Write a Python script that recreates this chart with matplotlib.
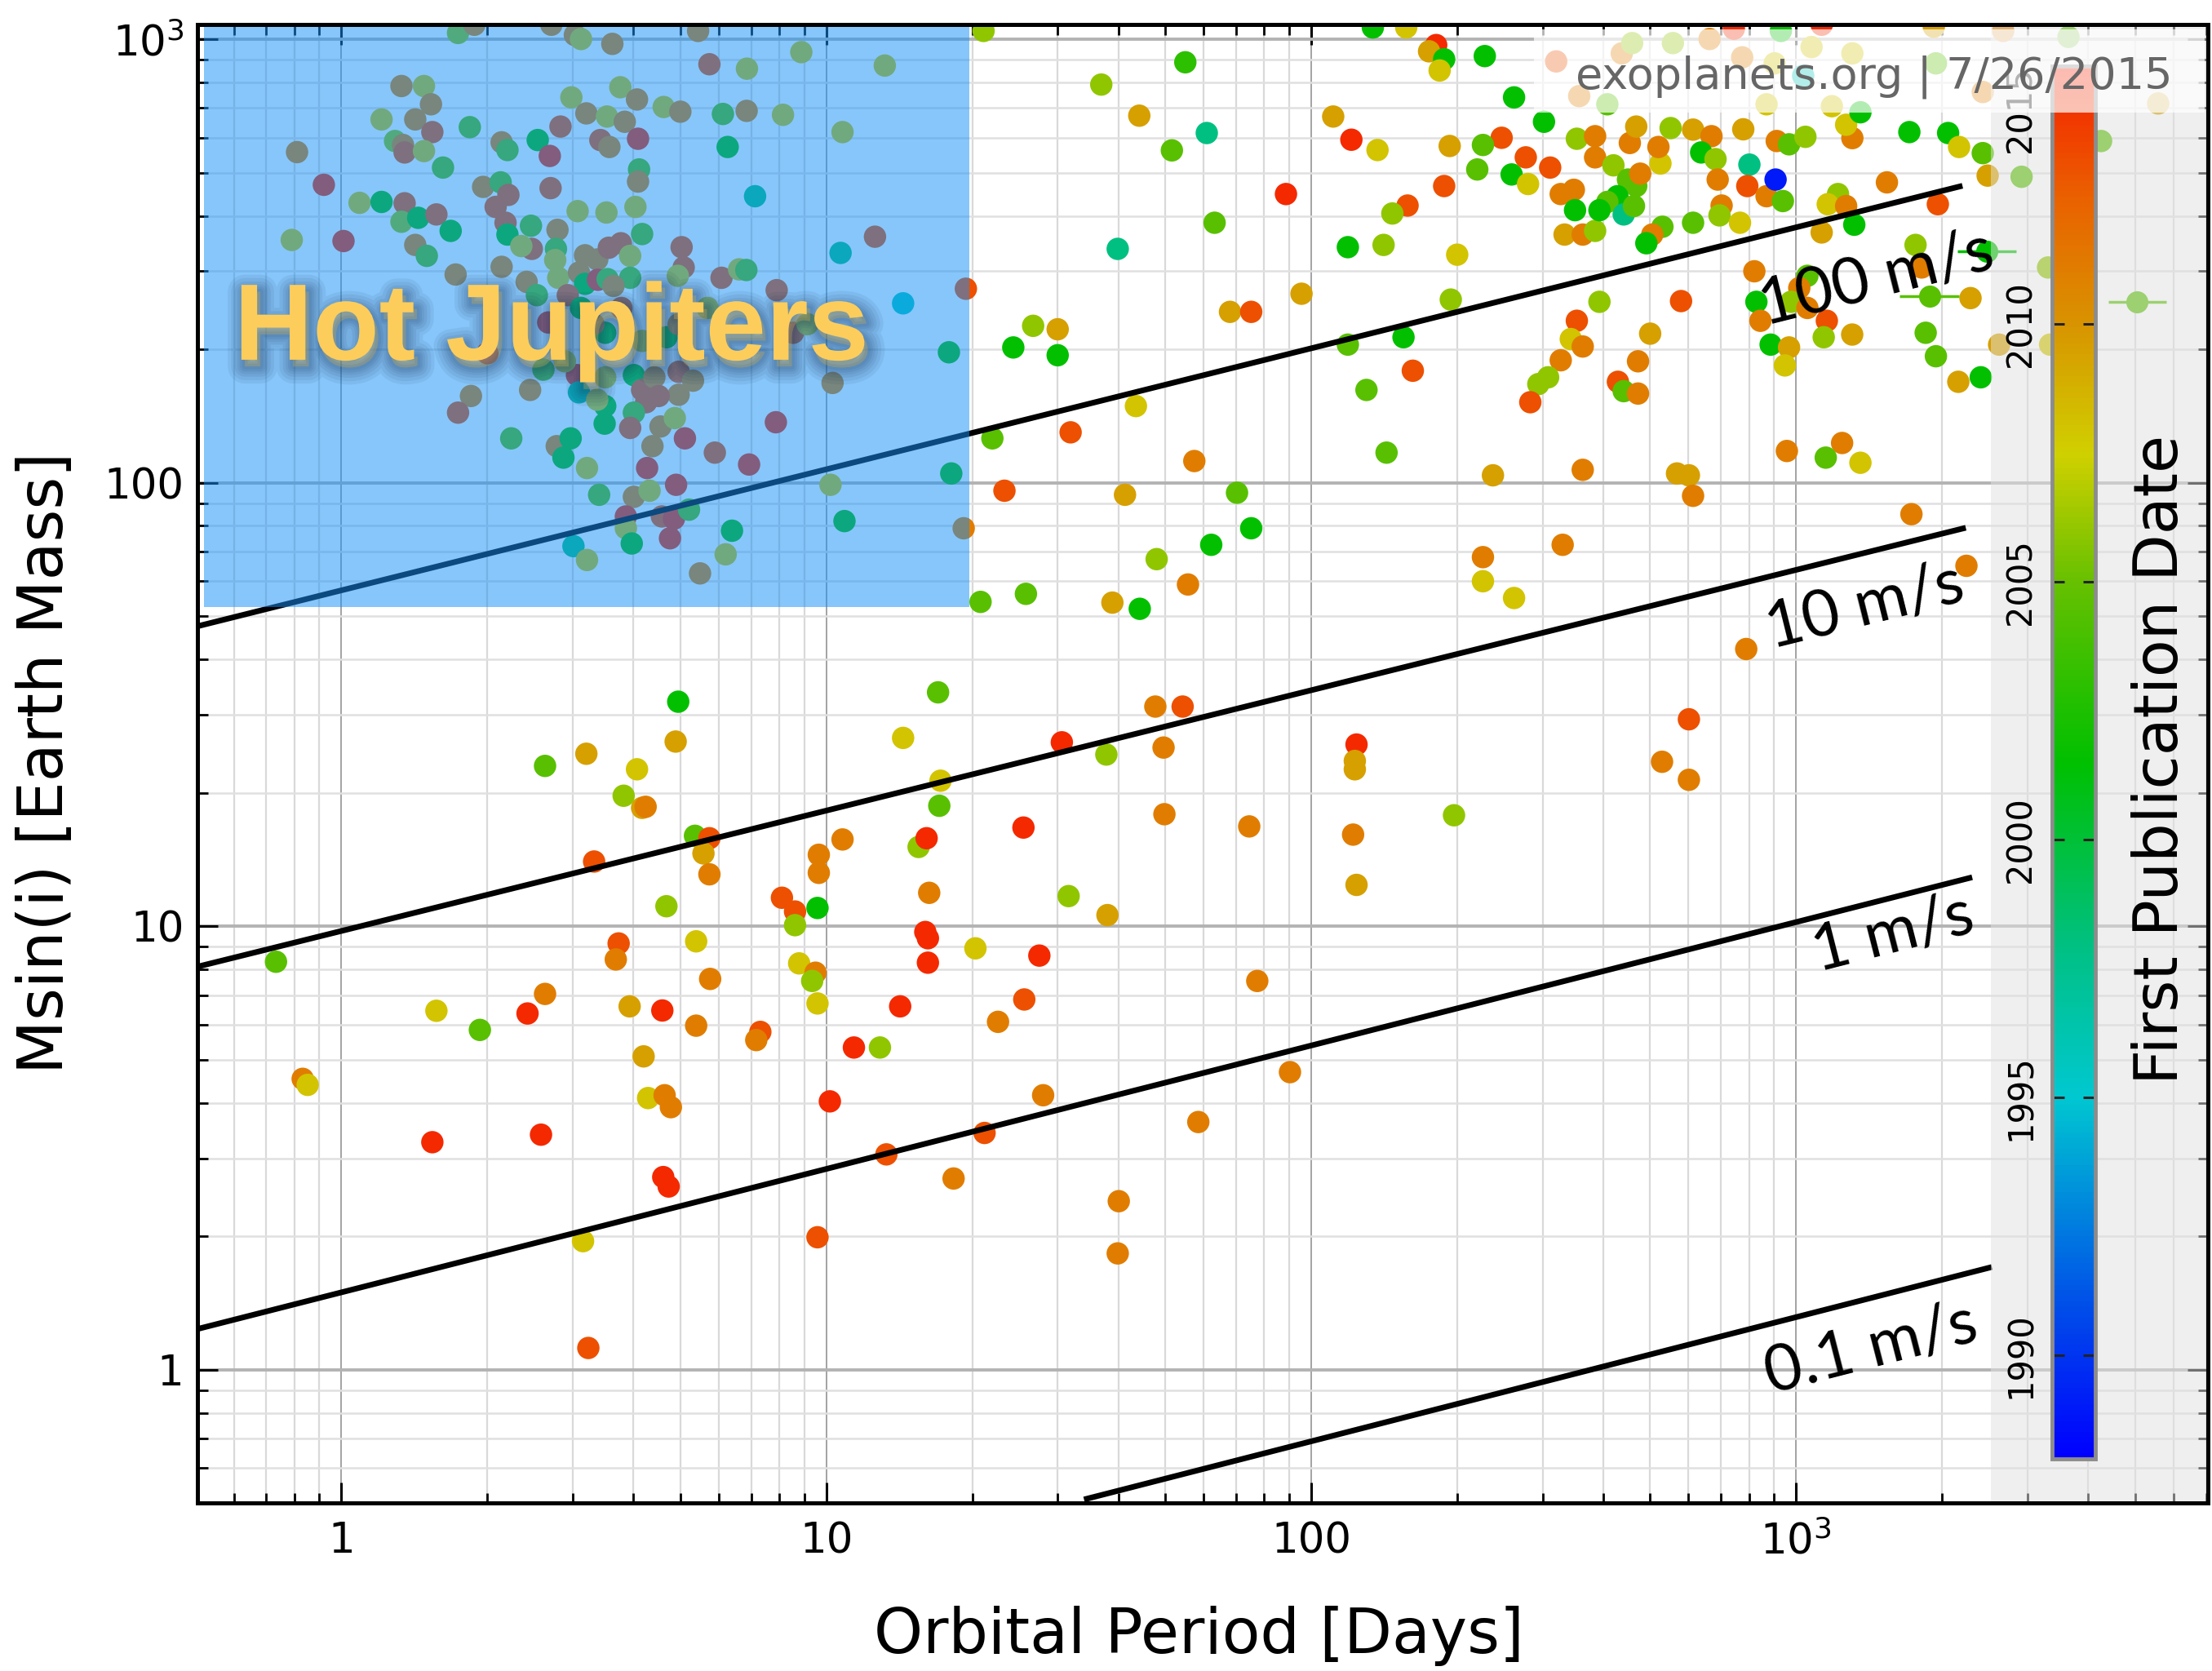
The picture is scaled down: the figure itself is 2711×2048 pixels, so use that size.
import matplotlib
matplotlib.use("Agg")
import matplotlib.pyplot as plt
import numpy as np
from matplotlib import patheffects
from matplotlib.cm import ScalarMappable
from matplotlib.colors import LinearSegmentedColormap, Normalize
from matplotlib.patches import Rectangle
from matplotlib.ticker import FixedLocator, FixedFormatter, LogLocator, NullFormatter

plt.rcParams['font.family'] = ['DejaVu Sans']
plt.rcParams['mathtext.fontset'] = 'dejavusans'

# short period giants (hot Jupiter corner)
hj_period = [
    1.74, 1.88, 2.71, 3.03, 3.12, 3.62, 5.44, 5.74, 6.86, 8.88,
    1.33, 1.48, 1.53, 1.21, 1.42, 1.54, 1.84, 2.98, 3.20, 3.53,
    3.76, 4.07, 3.84, 4.62, 5.00, 6.12, 6.85, 8.14, 2.83, 0.81,
    1.29, 1.34, 1.35, 1.48, 2.14, 2.20, 2.54, 2.69, 3.42, 3.57,
    4.09, 6.26, 1.62, 4.11, 4.09, 0.92, 1.09, 1.21, 1.35, 1.96,
    2.13, 2.21, 2.08, 2.70, 7.13, 3.07, 3.52, 4.04, 1.33, 1.44,
    1.57, 1.68, 2.18, 2.46, 2.79, 2.20, 4.17, 0.79, 1.01, 1.42,
    1.50, 1.72, 2.14, 2.47, 2.35, 2.77, 2.76, 3.18, 3.37, 3.56,
    3.77, 3.94, 5.03, 5.08, 4.94, 6.08, 6.61, 6.84, 7.90, 2.41,
    2.53, 2.80, 3.09, 3.18, 2.93, 3.38, 3.54, 3.94, 3.64, 2.67,
    2.00, 3.50, 4.68, 8.54, 9.14, 5.69, 4.96, 3.12, 3.78, 3.31,
    4.17, 2.61, 2.45, 1.85, 1.74, 3.06, 2.89, 3.09, 3.50, 4.01,
    4.17, 4.42, 4.96, 5.31, 4.96, 4.25, 4.51, 3.50, 3.49, 3.37,
    4.01, 4.55, 4.87, 3.94, 7.87, 2.24, 2.78, 2.97, 2.87, 3.21,
    4.38, 5.11, 4.27, 5.89, 6.93, 3.40, 4.01, 4.32, 4.90, 3.86,
    4.58, 4.85, 5.21, 3.86, 3.97, 4.76, 6.39, 3.01, 3.21, 6.20,
    5.49, 10.2, 10.3, 13.2, 10.8, 12.6, 10.7, 14.4, 19.4, 17.9,
    18.1, 10.9, 19.2,
]
hj_mass = [
    1034, 1079, 1079, 1023, 1002, 977, 1045, 879, 859, 936,
    785, 785, 714, 660, 660, 618, 634, 740, 681, 670,
    780, 732, 652, 704, 687, 679, 690, 676, 636, 557,
    590, 578, 556, 560, 586, 563, 593, 546, 593, 572,
    597, 572, 514, 509, 478, 470, 428, 430, 427, 465,
    476, 446, 419, 462, 443, 410, 407, 419, 388, 396,
    403, 370, 386, 380, 372, 363, 364, 353, 351, 344,
    325, 295, 307, 337, 342, 337, 318, 326, 319, 339,
    347, 325, 340, 306, 293, 290, 303, 302, 272, 284,
    265, 290, 298, 281, 265, 287, 288, 290, 278, 230,
    196, 218, 213, 218, 228, 248, 228, 248, 248, 228,
    209, 180, 162, 157, 144, 175, 188, 160, 173, 175,
    162, 173, 178, 170, 158, 152, 157, 149, 136, 154,
    144, 134, 140, 133, 137, 126, 121, 126, 114, 108,
    121, 126, 108, 117, 110, 94, 93, 96, 99, 84,
    84, 83, 87, 79, 73, 75, 78, 72, 67, 69,
    62.5, 99, 168, 873, 618, 359, 330, 254, 274, 197,
    105, 82, 79,
]
hj_year = [
    2006, 2011, 2011, 2011, 2008, 2011, 2011, 2013, 2008, 2008,
    2011, 2008, 2011, 2008, 2011, 2013, 2004.5, 2008, 2011, 2008,
    2008, 2011, 2011, 2008, 2011, 2004.5, 2011, 2008, 2013, 2011,
    2006, 2011, 2013, 2008, 2011, 2004.5, 2001.5, 2014.5, 2013, 2011,
    2014.5, 2001.5, 2004.5, 2004.5, 2011, 2014.5, 2008, 2001.5, 2013, 2011,
    2004.5, 2013, 2013, 2013, 1998, 2008, 2008, 2008, 2006, 2001.5,
    2013, 2001.5, 2013, 2004.5, 2011, 2001.5, 2004.5, 2008, 2014.5, 2011,
    2004.5, 2011, 2011, 2013, 2008, 2004.5, 2008, 2011, 2011, 2013,
    2013, 2008, 2013, 2013, 2008, 2013, 2008, 2004.5, 2013, 2011,
    2004.5, 2008, 2011, 2001.5, 2013, 2014.5, 2004.5, 2004.5, 2011, 2014.5,
    2014.5, 2001.5, 2001.5, 2013, 2008, 2008, 2011, 2001.5, 2013, 2011,
    2008, 2004.5, 2011, 2011, 2013, 2014.5, 2008, 1998, 2008, 2001.5,
    2013, 2011, 2013, 2011, 2011, 2013, 2013, 2001.5, 2001.5, 2008,
    2004.5, 2011, 2008, 2013, 2014.5, 2004.5, 2011, 2001.5, 2001.5, 2008,
    2011, 2014.5, 2014.5, 2013, 2014.5, 2004.5, 2011, 2008, 2014.5, 2014.5,
    2013, 2014.5, 2004.5, 2008, 2001.5, 2014.5, 2001.5, 1998, 2008, 2008,
    2011, 2008, 2011, 2008, 2008, 2013, 1998, 1995.5, 2013, 2001.5,
    2001.5, 2001.5, 2011,
]

# longer period giants
giant_period = [
    21.1, 55, 36.9, 44.2, 60.9, 51.6, 88.7, 63.2, 39.9, 26.7,
    30.0, 24.3, 30.0, 95.5, 68.0, 75.2, 111, 121, 137, 193,
    188, 158, 147, 119, 141, 200, 194, 119, 155, 162,
    130, 143, 43.5, 31.9, 22.0, 57.4, 23.3, 41.3, 70.3, 75.2,
    62.2, 48.0, 55.7, 38.9, 44.3, 25.8, 20.8, 134, 157, 181,
    175, 188, 184, 228, 262, 302, 247, 226, 220, 259,
    277, 311, 280, 327, 348, 350, 333, 363, 385, 353,
    385, 385, 420, 454, 468, 450, 468, 477, 428, 408,
    393, 441, 463, 525, 520, 551, 613, 669, 637, 682,
    702, 695, 766, 613, 530, 505, 491, 689, 778, 801,
    793, 869, 907, 939, 912, 967, 1045, 1306, 1268, 1539,
    1712, 2058, 2168, 2426, 2483, 2917, 1960, 1220, 1162, 1268,
    1318, 1129, 1763, 1815, 820, 1055, 1015, 828, 976, 1055,
    844, 1157, 1140, 1305, 886, 967, 948, 2289, 1850, 1942,
    2160, 2403, 579, 393, 353, 343, 363, 327, 500, 472,
    308, 294, 283, 429, 441, 472, 957, 1244, 1151, 1357,
    237, 363, 568, 601, 613, 1729, 330, 226, 226, 262,
    2245, 789, 320, 437, 459, 557, 663, 774, 903, 1076,
    1306, 1942, 744, 930, 1129, 1923, 1034, 408, 1357, 2673,
    2426, 3645, 869, 1185, 357, 3308, 2622, 3340, 4255, 5580,
]
giant_mass = [
    1045, 888, 791, 673, 615, 562, 448, 386, 337, 226,
    222, 202, 194, 267, 243, 243, 670, 594, 563, 575,
    467, 422, 405, 340, 344, 327, 259, 205, 213, 179,
    162, 117, 149, 130, 126, 112, 96, 94, 95, 79,
    72.5, 67.3, 59, 53.7, 52, 56.2, 53.9, 1064, 1064, 971,
    940, 902, 851, 917, 740, 652, 600, 578, 509, 496,
    542, 514, 472, 448, 458, 412, 363, 363, 370, 597,
    605, 542, 520, 584, 636, 483, 467, 498, 443, 430,
    412, 403, 421, 525, 572, 631, 626, 605, 556, 537,
    422, 401, 386, 386, 378, 363, 347, 483, 627, 522,
    467, 443, 483, 432, 590, 580, 603, 599, 642, 476,
    618, 615, 572, 554, 493, 490, 425, 448, 425, 421,
    382, 367, 344, 306, 300, 293, 275, 256, 256, 248,
    232, 232, 213, 216, 205, 202, 184, 261, 218, 193,
    169, 173, 257, 256, 232, 211, 203, 189, 217, 188,
    173, 167, 152, 169, 161, 159, 118, 123, 114, 111,
    104, 107, 105, 104, 93.5, 85, 72.5, 68, 60, 55,
    65, 42.2, 892, 930, 981, 981, 1002, 911, 883, 961,
    930, 883, 1057, 1045, 1079, 1068, 828, 714, 685, 1045,
    761, 1013, 714, 707, 745, 306, 205, 205, 590, 717,
]
giant_year = [
    2006, 2003, 2006, 2009.5, 1998, 2004.5, 2014.5, 2004.5, 1998, 2006,
    2009.5, 2001.5, 2001.5, 2009.5, 2009.5, 2013, 2009.5, 2014.5, 2008, 2009.5,
    2013, 2013, 2006, 2001.5, 2006, 2008, 2006, 2004.5, 2001.5, 2013,
    2004.5, 2004.5, 2008, 2013, 2004.5, 2011, 2013, 2009.5, 2004.5, 2001.5,
    2001.5, 2006, 2011, 2009.5, 2001.5, 2004.5, 2004.5, 2001.5, 2008, 2014.5,
    2009.5, 2001.5, 2008, 2001.5, 2001.5, 2001.5, 2013, 2004.5, 2004.5, 2001.5,
    2013, 2013, 2008, 2011, 2011, 2001.5, 2009.5, 2011, 2006, 2006,
    2011, 2011, 2006, 2011, 2009.5, 2004.5, 2004.5, 2011, 2001.5, 2004.5,
    2001.5, 1998, 2004.5, 2008, 2011, 2006, 2009.5, 2011, 2001.5, 2006,
    2011, 2006, 2008, 2004.5, 2004.5, 2011, 2001.5, 2011, 2009.5, 1998,
    2013, 2011, 1989, 2004.5, 2011, 2004.5, 2006, 2011, 2008, 2011,
    2001.5, 2001.5, 2008, 2004.5, 2009.5, 2004.5, 2013, 2006, 2008, 2011,
    2001.5, 2009.5, 2006, 2011, 2011, 2004.5, 2011, 2001.5, 2006, 2011,
    2011, 2013, 2006, 2009.5, 2001.5, 2009.5, 2008, 2009.5, 2004.5, 2004.5,
    2009.5, 2001.5, 2013, 2006, 2013, 2008, 2011, 2011, 2009.5, 2011,
    2006, 2006, 2013, 2013, 2004.5, 2011, 2011, 2011, 2004.5, 2008,
    2009.5, 2011, 2009.5, 2009.5, 2011, 2011, 2011, 2011, 2008, 2008,
    2011, 2011, 2013, 2011, 2006, 2006, 2011, 2011, 2008, 2008,
    2008, 2004.5, 2014.5, 2001.5, 2014.5, 2009.5, 1996, 2004.5, 2001.5, 2011,
    2011, 2004.5, 2008, 2008, 2011, 2006, 2009.5, 2008, 2004.5, 2009.5,
]

# low mass planets
small_period = [
    4.95, 4.89, 3.20, 2.63, 4.07, 3.82, 4.17, 4.24, 5.36, 5.74,
    5.58, 5.74, 3.32, 4.68, 8.10, 8.62, 8.62, 9.59, 9.65, 9.65,
    0.733, 3.73, 3.68, 5.39, 5.76, 8.79, 9.50, 9.35, 9.59, 2.63,
    1.57, 1.93, 2.42, 3.93, 4.59, 5.39, 7.31, 7.17, 4.20, 0.832,
    0.852, 4.29, 4.64, 4.78, 10.17, 1.54, 2.58, 4.61, 4.73, 9.59,
    3.15, 3.23, 17.0, 47.7, 54.3, 14.4, 30.6, 37.8, 49.6, 17.2,
    17.1, 124, 123, 123, 197, 10.8, 15.5, 16.1, 25.5, 49.8,
    74.5, 122, 16.3, 31.6, 38.0, 124, 16.0, 16.2, 20.3, 27.5,
    16.2, 77.4, 14.2, 25.6, 22.6, 11.4, 12.9, 28.0, 90.4, 21.2,
    13.3, 58.5, 18.3, 40.1, 39.9, 529, 601, 601,
]
small_mass = [
    32.1, 26.1, 24.5, 23.0, 22.6, 19.7, 18.5, 18.6, 16.0, 15.8,
    14.6, 13.1, 14.0, 11.1, 11.6, 10.8, 10.06, 11.0, 14.5, 13.2,
    8.32, 9.15, 8.42, 9.25, 7.61, 8.25, 7.86, 7.53, 6.70, 7.04,
    6.45, 5.84, 6.36, 6.60, 6.46, 5.97, 5.78, 5.54, 5.09, 4.53,
    4.39, 4.10, 4.16, 3.91, 4.03, 3.26, 3.39, 2.72, 2.59, 1.99,
    1.95, 1.12, 33.7, 31.3, 31.3, 26.6, 26.0, 24.4, 25.3, 21.3,
    18.7, 25.7, 23.6, 22.6, 17.8, 15.7, 15.1, 15.8, 16.7, 17.9,
    16.8, 16.1, 11.9, 11.7, 10.6, 12.4, 9.71, 9.40, 8.92, 8.59,
    8.28, 7.53, 6.60, 6.84, 6.09, 5.33, 5.33, 4.16, 4.69, 3.42,
    3.06, 3.62, 2.70, 2.40, 1.83, 23.5, 29.3, 21.4,
]
small_year = [
    2001.5, 2009.5, 2009.5, 2004.5, 2008, 2006, 2009.5, 2011, 2004.5, 2013,
    2009.5, 2011, 2013, 2006, 2013, 2013, 2006, 2001.5, 2011, 2011,
    2004.5, 2013, 2011, 2008, 2011, 2008, 2011, 2006, 2008, 2011,
    2008, 2004.5, 2014.5, 2009.5, 2014.5, 2011, 2013, 2011, 2009.5, 2011,
    2008, 2008, 2011, 2011, 2014.5, 2014.5, 2014.5, 2014.5, 2014.5, 2013,
    2008, 2013, 2004.5, 2011, 2013, 2008, 2014.5, 2006, 2011, 2008,
    2004.5, 2014.5, 2009.5, 2009.5, 2006, 2011, 2006, 2014.5, 2014.5, 2011,
    2011, 2011, 2011, 2006, 2009.5, 2009.5, 2014.5, 2014.5, 2008, 2014.5,
    2014.5, 2011, 2014.5, 2013, 2011, 2014.5, 2006, 2011, 2011, 2013,
    2013, 2011, 2011, 2011, 2011, 2011, 2013, 2011,
]

# planets shown with period error bars (days below / above)
err_period = [1886, 2474, 5047]
err_mass = [264, 333, 256]
err_year = [2004.5, 2001.5, 2004.5]
err_lo = [250, 320, 650]
err_hi = [280, 370, 750]

# RV semi-amplitude guide lines, end points as (period, mass)
rv_labels = ["100 m/s", "10 m/s", "1 m/s", "0.1 m/s"]
rv_period = [(0.505, 2203), (0.505, 2238), (0.505, 2307), (34.0, 2533)]
rv_mass = [(47.5, 467.6), (8.11, 79.2), (1.236, 12.9), (0.51, 1.705)]
rv_label_period = [1466, 1384, 1585, 1426]
rv_label_mass = [288, 52.7, 9.6, 1.116]

# hot Jupiter shading and the faded strip behind the colour bar
hot_jupiter_period = (0.52, 19.7)
hot_jupiter_mass = (52.5, 1081)
strip_start = 2520

period_lim = (0.505, 7070)
mass_lim = (0.501, 1081)
decades = [1, 10, 100, 1000]
decade_labels = ['1', '10', '100', r'$10^3$']

year_lim = (1988, 2015)
year_ticks = [1990, 1995, 2000, 2005, 2010, 2015]


def pub_colormap():
    nodes = [(1988, '#0000ff'), (1991, '#0050e8'), (1995, '#00c8d0'), (1998, '#00c080'),
             (2001.5, '#00c000'), (2005, '#66c000'), (2007.5, '#d0d000'), (2010, '#d89400'),
             (2012.5, '#ea6000'), (2015, '#f61e00')]
    span = year_lim[1] - year_lim[0]
    return LinearSegmentedColormap.from_list(
        'pubdate', [((y - year_lim[0]) / span, c) for y, c in nodes])


def setup_axes(ax):
    ax.set_xscale('log')
    ax.set_yscale('log')
    ax.set_xlim(*period_lim)
    ax.set_ylim(*mass_lim)
    for axis in (ax.xaxis, ax.yaxis):
        axis.set_major_locator(FixedLocator(decades))
        axis.set_major_formatter(FixedFormatter(decade_labels))
        axis.set_minor_locator(LogLocator(base=10, subs=np.arange(2, 10), numticks=50))
        axis.set_minor_formatter(NullFormatter())

    ax.tick_params(which='both', direction='in', top=True, right=True, color='black')
    ax.tick_params(which='major', length=18, width=2.2, labelsize=37)
    ax.tick_params(which='minor', length=9, width=2.0)
    ax.tick_params(axis='x', which='major', pad=16)
    ax.tick_params(axis='y', which='major', pad=12)

    ax.set_axisbelow(True)
    ax.grid(True, which='major', axis='x', color='#8a8a8a', lw=1.1)
    ax.grid(True, which='minor', axis='x', color='#d9d9d9', lw=1.6)
    ax.grid(True, which='major', axis='y', color='#b3b3b3', lw=2.8)
    ax.grid(True, which='minor', axis='y', color='#e0e0e0', lw=1.8)

    for spine in ax.spines.values():
        spine.set_linewidth(3.6)
        spine.set_zorder(4)


def draw_planets(ax, cmap, norm):
    groups = [(hj_period, hj_mass, hj_year),
              (giant_period, giant_mass, giant_year),
              (small_period, small_mass, small_year)]
    for period, mass, year in groups:
        ax.scatter(period, mass, c=year, cmap=cmap, norm=norm, s=390, linewidths=0, zorder=2)
    for p, m, y, lo, hi in zip(err_period, err_mass, err_year, err_lo, err_hi):
        ax.errorbar([p], [m], xerr=[[lo], [hi]], fmt='o', ms=19.5, mew=0,
                    color=cmap(norm(y)), elinewidth=2.5, capsize=0, zorder=2)


def draw_rv_lines(ax):
    for label, p, m, lp, lm in zip(rv_labels, rv_period, rv_mass, rv_label_period, rv_label_mass):
        ax.plot(p, m, color='black', lw=5, solid_capstyle='butt', zorder=2.5)
        (x0, y0), (x1, y1) = ax.transData.transform([(p[0], m[0]), (p[1], m[1])])
        angle = np.degrees(np.arctan2(y1 - y0, x1 - x0))
        ax.text(lp, lm, label, rotation=angle, rotation_mode='anchor', ha='center', va='center',
                fontsize=57, family='Lato', color='black', zorder=5)


def draw_overlays(ax):
    ax.add_patch(Rectangle((hot_jupiter_period[0], hot_jupiter_mass[0]),
                           hot_jupiter_period[1] - hot_jupiter_period[0],
                           hot_jupiter_mass[1] - hot_jupiter_mass[0],
                           facecolor='#1690f6', alpha=0.515, lw=0, zorder=3))
    ax.axvspan(strip_start, period_lim[1], color='#e1e1e1', alpha=0.5, lw=0, zorder=3)

    # soft dark halo under the label, built from widening faint strokes
    glow = [patheffects.Stroke(linewidth=w, foreground='#0d2a4d', alpha=0.07, offset=(3, -6))
            for w in (30, 24, 18, 13, 9, 5)]
    glow.append(patheffects.Normal())
    ax.text(0.1761, 0.7732, 'Hot Jupiters', transform=ax.transAxes, ha='center', va='baseline',
            fontsize=96, fontweight='bold', family='Liberation Sans', color='#fdcd5b',
            zorder=6, path_effects=glow)


def add_colorbar(fig, cmap, norm):
    cax = fig.add_axes([0.9277, 0.1270, 0.0196, 0.8335])
    cb = fig.colorbar(ScalarMappable(norm=norm, cmap=cmap), cax=cax)
    cb.outline.set_edgecolor('#8c8c8c')
    cb.outline.set_linewidth(3.5)
    cb.set_ticks(year_ticks)
    cax.minorticks_off()
    cax.tick_params(direction='in', left=True, right=True, length=11, width=2.2,
                    color='#222222', labelleft=False, labelright=False)
    for yr in year_ticks:
        cax.text(-0.33, yr, str(yr), transform=cax.get_yaxis_transform(), rotation=90,
                 ha='right', va='top' if yr == year_ticks[-1] else 'center', fontsize=30)
    fig.text(0.9768, 0.5454, 'First Publication Date', rotation=90, ha='center', va='center',
             fontsize=54)


if __name__ == "__main__":
    fig = plt.figure(figsize=(27.11, 20.48), dpi=100)
    ax = fig.add_axes([0.0893, 0.1006, 0.9089, 0.8848])
    cmap = pub_colormap()
    norm = Normalize(*year_lim)

    setup_axes(ax)
    draw_planets(ax, cmap, norm)
    draw_rv_lines(ax)
    draw_overlays(ax)
    add_colorbar(fig, cmap, norm)

    fig.text(0.5422, 0.0107, 'Orbital Period [Days]', ha='center', va='baseline', fontsize=55)
    fig.text(0.0207, 0.5435, 'Msin(i) [Earth Mass]', rotation=90, ha='center', va='center',
             fontsize=55)

    # source stamp in the top right corner, on a washed-out band
    fig.add_artist(Rectangle((0.6935, 0.9326), 0.3032, 0.0498, transform=fig.transFigure,
                             facecolor='white', alpha=0.7, lw=0, zorder=5))
    fig.text(0.8473, 0.9541, 'exoplanets.org | 7/26/2015', ha='center', va='center',
             fontsize=39, color='#666666', zorder=6)

    fig.savefig('out.png', dpi=100)
